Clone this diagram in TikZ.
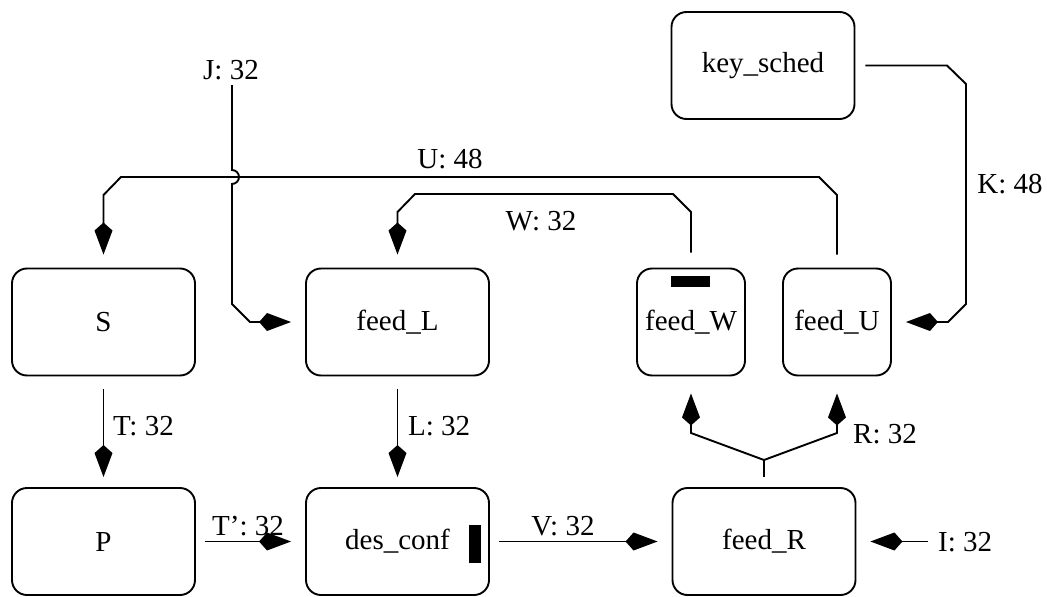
\documentclass[tikz,border=0pt]{standalone}
\usepackage{fontspec}
\setmainfont{Liberation Serif}
\usetikzlibrary{arrows.meta,calc}
\begin{document}
\begin{tikzpicture}[x=1pt,y=-1pt,
  box/.style={draw,line width=1.9pt,rounded corners=15pt,minimum width=183pt,minimum height=107pt,inner sep=0pt,font=\fontsize{29}{35}\selectfont},
  smallbox/.style={box,minimum width=108pt},
  bar/.style={fill=black,draw=none,inner sep=0pt},
  line/.style={line width=1.9pt},
  conn/.style={line,-{Kite[length=32pt,width=18pt,inset=8pt]}},
  lab/.style={font=\fontsize{29}{35}\selectfont,inner sep=0pt,anchor=base}
]
\useasboundingbox (0,0) rectangle (1047,597);
% nodes
\node[box] (keysched) at (763,65.5) {key\_sched};
\node[box] (S) at (103.5,322) {S};
\node[box] (feedL) at (397.5,322) {feed\_L};
\node[smallbox] (feedW) at (691,322) {feed\_W};
\node[smallbox] (feedU) at (837,322) {feed\_U};
\node[box] (P) at (103.5,541.5) {P};
\node[box] (desconf) at (397.5,541.5) {des\_conf};
\node[box] (feedR) at (764,541.5) {feed\_R};
\node[bar,minimum width=39pt,minimum height=11pt] (barW) at (690.5,281.5) {};
\node[bar,minimum width=12pt,minimum height=38pt] (barD) at (475,544) {};
% free ends
\coordinate (Jstart) at (232,85);
\coordinate (Istart) at (928,541.5);
\coordinate (Rjoin) at (764,460);
% connectors
\draw[conn] (Jstart) -- (232,170) arc[start angle=-90,end angle=90,radius=7] -- (232,304) -- (250,322) -- ([xshift=-14pt]feedL.west);
\draw[conn] ([yshift=13pt]feedU.north) -- (837,195) -- (819,177) -- (121,177) -- (103.5,195) -- ([yshift=13pt]S.north);
\draw[conn] ([yshift=15pt]feedW.north) -- (691,212) -- (673,194) -- (415,194) -- (397.5,212) -- ([yshift=13pt]feedL.north);
\draw[conn] ([xshift=10pt]keysched.east) -- (947,65.5) -- (966,84) -- (966,304) -- (948,322) -- ([xshift=14pt]feedU.east);
\draw[conn] ([yshift=-13pt]S.south) -- ([yshift=10pt]P.north);
\draw[conn] ([yshift=-13pt]feedL.south) -- ([yshift=10pt]desconf.north);
\draw[conn] ([xshift=9pt]P.east) -- ([xshift=-14pt]desconf.west);
\draw[conn] ([xshift=9pt]desconf.east) -- ([xshift=-14pt]feedR.west);
\draw[conn] (Istart) -- ([xshift=14pt]feedR.east);
\draw[line] ([yshift=10pt]feedR.north) -- (Rjoin);
\draw[conn] (Rjoin) -- (691,433) -- ([yshift=-17pt]feedW.south);
\draw[conn] (Rjoin) -- (837,433) -- ([yshift=-17pt]feedU.south);
% labels
\node[lab] (lJ) at (231,79) {J: 32};
\node[lab] (lU) at (450,168) {U: 48};
\node[lab] (lW) at (541,230) {W: 32};
\node[lab] (lK) at (1010,193) {K: 48};
\node[lab,anchor=base west] (lT) at (113,435) {T: 32};
\node[lab,anchor=base west] (lL) at (408,435) {L: 32};
\node[lab] (lTp) at (248,535) {T': 32};
\node[lab] (lV) at (563,535) {V: 32};
\node[lab,anchor=base west] (lI) at (938,551) {I: 32};
\node[lab,anchor=base west] (lR) at (853,443) {R: 32};
\end{tikzpicture}
\end{document}
